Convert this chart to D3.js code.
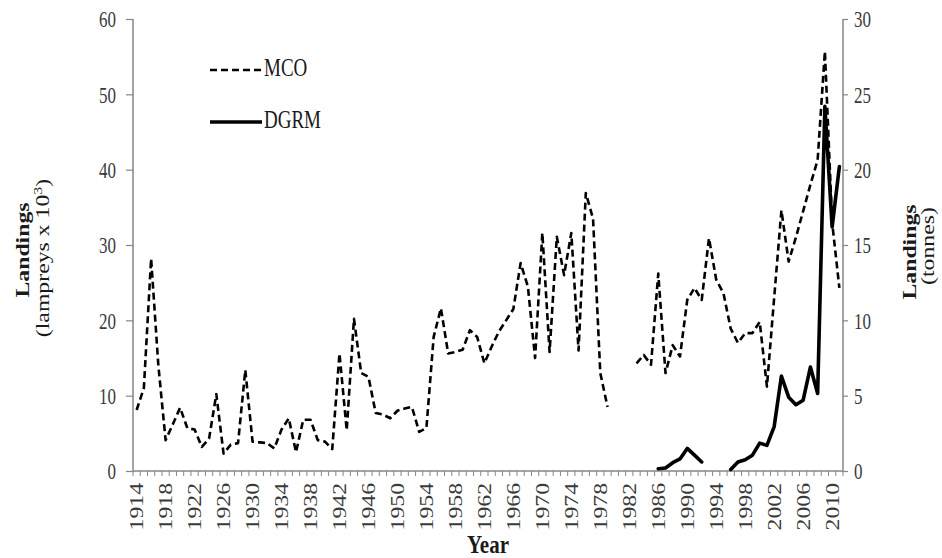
<!DOCTYPE html>
<html>
<head>
<meta charset="utf-8">
<script src="https://cdn.jsdelivr.net/npm/d3@7"></script>
<style>
  html, body { margin: 0; padding: 0; background: #fff; }
  svg { display: block; }
  text { font-family: "Liberation Serif", "Times New Roman", serif; }
</style>
</head>
<body>
<script>
// ---- data ----
const years = [1914,1915,1916,1917,1918,1919,1920,1921,1922,1923,1924,1925,1926,1927,1928,1929,1930,1931,1932,1933,1934,1935,1936,1937,1938,1939,1940,1941,1942,1943,1944,1945,1946,1947,1948,1949,1950,1951,1952,1953,1954,1955,1956,1957,1958,1959,1960,1961,1962,1963,1964,1965,1966,1967,1968,1969,1970,1971,1972,1973,1974,1975,1976,1977,1978,1979,1980,1981,1982,1983,1984,1985,1986,1987,1988,1989,1990,1991,1992,1993,1994,1995,1996,1997,1998,1999,2000,2001,2002,2003,2004,2005,2006,2007,2008,2009,2010,2011];

// MCO landings, lampreys x 10^3 (left axis)
const mco = [8.1,11,28.2,14,4.1,6.2,8.4,5.7,5.5,3.2,4.3,10.2,2.3,3.5,3.7,13.4,3.9,3.8,3.7,3.0,5.5,7,2.5,6.8,6.8,4.1,3.9,2.9,15.6,5.4,20.2,13,12.5,7.7,7.5,7,8,8.3,8.5,5.2,5.7,17.8,21.6,15.6,15.8,16.1,18.7,17.8,14.3,16.5,18.5,20,21.5,27.6,24.5,15,31.6,15.8,31.1,26,31.6,16,36.9,33.5,13,8.5,null,null,null,14.3,15.4,14.1,26.2,13,16.7,15.2,22.7,24.3,22.7,30.9,25.4,23.6,18.9,17,18.3,18.3,19.8,11.2,23,34.6,27.8,31,34.5,38,41.3,55.7,33,24.3];

// DGRM landings, tonnes (right axis)
const dgrm = [null,null,null,null,null,null,null,null,null,null,null,null,null,null,null,null,null,null,null,null,null,null,null,null,null,null,null,null,null,null,null,null,null,null,null,null,null,null,null,null,null,null,null,null,null,null,null,null,null,null,null,null,null,null,null,null,null,null,null,null,null,null,null,null,null,null,null,null,null,null,null,null,0.15,0.2,0.55,0.8,1.5,1.05,0.6,null,null,null,0.1,0.6,0.75,1.05,1.85,1.7,2.95,6.3,4.9,4.4,4.7,6.9,5.15,24.2,16.2,20.2];

const leftTicks = [0,10,20,30,40,50,60];
const rightTicks = [0,5,10,15,20,25,30];
const xLabelYears = years.filter((y, i) => i % 4 === 0);

// ---- layout ----
const W = 942, H = 558;
const plot = { left: 133, right: 843, top: 19, bottom: 471 };
const axisColor = "#868686";
const labelColor = "#3a3a3a";
const SY = 1.32; // vertical stretch of the lettering in the reference

const svg = d3.select("body").append("svg").attr("width", W).attr("height", H);

const x = d3.scaleBand().domain(years).range([plot.left, plot.right]).padding(0);
const cx = d => x(d) + x.bandwidth() / 2;
const yL = d3.scaleLinear().domain([0, 60]).range([plot.bottom, plot.top]);
const yR = d3.scaleLinear().domain([0, 30]).range([plot.bottom, plot.top]);

// left axis
const gL = svg.append("g").attr("transform", `translate(${plot.left},0)`)
  .call(d3.axisLeft(yL).tickValues(leftTicks).tickSize(7).tickPadding(10).tickFormat(d3.format("d")));
// right axis
const gR = svg.append("g").attr("transform", `translate(${plot.right},0)`)
  .call(d3.axisRight(yR).tickValues(rightTicks).tickSize(5).tickPadding(6).tickFormat(d3.format("d")));
[gL, gR].forEach(g => {
  g.select(".domain").attr("stroke", axisColor).attr("stroke-width", 1.5).attr("d", `M0,${plot.top}V${plot.bottom}`);
  g.selectAll(".tick line").attr("stroke", axisColor).attr("stroke-width", 1.2);
  g.selectAll(".tick text").attr("fill", labelColor).style("font-size", "17px")
    .style("font-family", '"Liberation Serif", serif')
    .attr("dy", null).attr("y", 6)
    .attr("transform", `scale(1,${SY})`);
});

// bottom axis: category boundaries as minor ticks
const gX = svg.append("g").attr("transform", `translate(0,${plot.bottom})`);
gX.append("line").attr("x1", plot.left).attr("x2", plot.right).attr("y1", 0).attr("y2", 0)
  .attr("stroke", axisColor).attr("stroke-width", 1.5);
const boundaries = years.map(d => x(d)).concat([plot.right]);
gX.selectAll("line.mt").data(boundaries).join("line").attr("class", "mt")
  .attr("x1", d => d).attr("x2", d => d).attr("y1", 0).attr("y2", 5)
  .attr("stroke", axisColor).attr("stroke-width", 1);
gX.selectAll("text.xl").data(xLabelYears).join("text").attr("class", "xl")
  .attr("transform", d => `translate(${cx(d) + 6.5},${12}) scale(1,${SY}) rotate(-90)`)
  .attr("text-anchor", "end")
  .attr("fill", labelColor).style("font-size", "18px")
  .text(d => d);

// lines
const lineL = d3.line().defined(d => d.v != null).x(d => cx(d.year)).y(d => yL(d.v));
const lineR = d3.line().defined(d => d.v != null).x(d => cx(d.year)).y(d => yR(d.v));
const mcoData = years.map((y, i) => ({ year: y, v: mco[i] }));
const dgrmData = years.map((y, i) => ({ year: y, v: dgrm[i] }));

svg.append("path").datum(mcoData).attr("d", lineL)
  .attr("fill", "none").attr("stroke", "#000").attr("stroke-width", 2.6)
  .attr("stroke-dasharray", "7,4").attr("stroke-linejoin", "round");
svg.append("path").datum(dgrmData).attr("d", lineR)
  .attr("fill", "none").attr("stroke", "#000").attr("stroke-width", 3.6)
  .attr("stroke-linejoin", "round").attr("stroke-linecap", "round");

// helper for stretched text
function stext(xp, yp, rot, size, weight, str, anchor, sy) {
  const s = sy == null ? SY : sy;
  return svg.append("text")
    .attr("transform", `translate(${xp},${yp}) scale(1,${s})` + (rot ? ` rotate(${rot})` : ""))
    .attr("text-anchor", anchor || "start")
    .style("font-size", size + "px").style("font-weight", weight || "normal")
    .attr("fill", "#1a1a1a").text(str);
}

// legend
const legend = svg.append("g");
legend.append("line").attr("x1", 210).attr("x2", 262).attr("y1", 70).attr("y2", 70)
  .attr("stroke", "#000").attr("stroke-width", 2.6).attr("stroke-dasharray", "7,4");
stext(264, 76, 0, 19, "normal", "MCO");
legend.append("line").attr("x1", 210).attr("x2", 262).attr("y1", 122).attr("y2", 122)
  .attr("stroke", "#000").attr("stroke-width", 3.6);
stext(264, 128, 0, 19, "normal", "DGRM");

// axis titles
stext(488, 553, 0, 21, "bold", "Year", "middle", 1.15);

stext(29, 250, -90, 18, "bold", "Landings", "middle");
const t2 = svg.append("text")
  .attr("transform", `translate(49,258) scale(1,${SY}) rotate(-90)`)
  .attr("text-anchor", "middle").style("font-size", "18px").attr("fill", "#1a1a1a");
t2.append("tspan").text("(lampreys x 10");
t2.append("tspan").attr("baseline-shift", "super").style("font-size", "12px").text("3");
t2.append("tspan").text(")");

stext(916, 252, -90, 18, "bold", "Landings", "middle");
stext(934, 246, -90, 18, "normal", "(tonnes)", "middle");
</script>
</body>
</html>
